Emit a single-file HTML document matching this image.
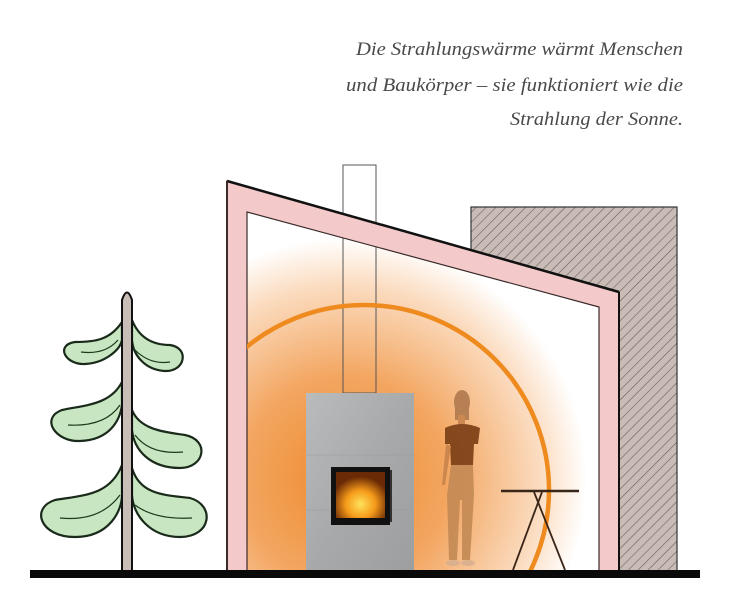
<!DOCTYPE html>
<html><head><meta charset="utf-8"><style>
html,body{margin:0;padding:0;background:#fff;width:729px;height:600px;overflow:hidden}
svg{display:block}
</style></head><body>
<svg width="729" height="600" viewBox="0 0 729 600" xmlns="http://www.w3.org/2000/svg">
<defs>
<radialGradient id="glow" cx="345" cy="480" r="260" gradientUnits="userSpaceOnUse">
<stop offset="0" stop-color="#ee8a2c"/>
<stop offset="0.4" stop-color="#f3a661"/>
<stop offset="0.75" stop-color="#fbdcc0"/>
<stop offset="0.93" stop-color="#ffffff"/>
</radialGradient>
<pattern id="hatch" width="7" height="7" patternUnits="userSpaceOnUse" patternTransform="rotate(45)">
<rect width="7" height="7" fill="#c9bcb6"/>
<line x1="0" y1="0" x2="0" y2="7" stroke="#6b5f5b" stroke-width="1.2"/>
</pattern>
<radialGradient id="fire" cx="0.5" cy="0.7" r="0.6">
<stop offset="0" stop-color="#ffe25a"/>
<stop offset="0.5" stop-color="#f59a1a"/>
<stop offset="1" stop-color="#6a2a05"/>
</radialGradient>
<linearGradient id="stone" x1="0" y1="0" x2="1" y2="1">
<stop offset="0" stop-color="#b9bbbd"/>
<stop offset="0.5" stop-color="#a7a9ab"/>
<stop offset="1" stop-color="#9c9ea0"/>
</linearGradient>
<clipPath id="inner"><rect x="247" y="150" width="352" height="420"/></clipPath>
</defs>

<g font-family="Liberation Serif, serif" font-style="italic" font-size="19" fill="#4a4a4a" text-anchor="end">
<text x="683" y="55" textLength="327" lengthAdjust="spacingAndGlyphs">Die Strahlungswärme wärmt Menschen</text>
<text x="683" y="91" textLength="337" lengthAdjust="spacingAndGlyphs">und Baukörper – sie funktioniert wie die</text>
<text x="683" y="125" textLength="173" lengthAdjust="spacingAndGlyphs">Strahlung der Sonne.</text>
</g>

<rect x="471" y="207" width="206" height="364" fill="url(#hatch)" stroke="#333" stroke-width="1.2"/>

<polygon points="247,212 600,307 600,571 247,571" fill="url(#glow)"/>

<rect x="343" y="165" width="33" height="228" fill="none" stroke="#555" stroke-width="1"/>
<rect x="344" y="166" width="31" height="40" fill="#fff"/>

<polygon points="227,181 619,292 619,571 599,571 599,307 247,212 247,571 227,571" fill="#f3c9c9" stroke="#3a2a2a" stroke-width="1.2"/>
<line x1="227" y1="181" x2="619" y2="292" stroke="#111" stroke-width="2.5"/>
<line x1="619" y1="292" x2="619" y2="571" stroke="#111" stroke-width="2"/>
<line x1="227" y1="181" x2="227" y2="571" stroke="#3a2a2a" stroke-width="2"/>

<circle cx="364" cy="490" r="185" fill="none" stroke="#ee8a1e" stroke-width="4.5" clip-path="url(#inner)"/>

<rect x="306" y="393" width="108" height="178" fill="url(#stone)"/>
<line x1="306" y1="455" x2="414" y2="455" stroke="#999" stroke-width="0.6"/>
<line x1="306" y1="510" x2="414" y2="510" stroke="#999" stroke-width="0.6"/>
<rect x="331" y="467" width="59" height="58" fill="#111"/>
<rect x="336" y="472" width="49" height="46" fill="url(#fire)"/>
<rect x="390" y="470" width="2" height="52" fill="#333"/>

<g fill="#c7844c" opacity="0.9">
<ellipse cx="462" cy="402" rx="8" ry="12" fill="#b07a4f"/>
<rect x="455" y="402" width="14" height="18" fill="#b07a4f"/>
<rect x="458" y="415" width="7" height="10"/>
<path d="M445,428 Q462,420 480,428 L478,444 L474,444 L473,465 L451,465 L450,444 L445,444 Z" fill="#7a3d14"/>
<path d="M446,444 L442,485 L445,485 L451,446 Z"/>
<path d="M451,465 L473,465 L474,495 L470,560 L462,560 L462,500 L460,500 L457,560 L449,560 L447,495 Z" fill="#c48a55"/>
<ellipse cx="453" cy="563" rx="7" ry="3" fill="#d9b090"/>
<ellipse cx="468" cy="563" rx="7" ry="3" fill="#d9b090"/>
</g>

<line x1="501" y1="491" x2="579" y2="491" stroke="#3a2618" stroke-width="2.5"/>
<line x1="534" y1="492" x2="565" y2="570" stroke="#3a2618" stroke-width="1.8"/>
<line x1="542" y1="492" x2="513" y2="570" stroke="#3a2618" stroke-width="1.8"/>

<g stroke="#1a2a1a" stroke-width="2.2" fill="#c9e6c2">
<path d="M122,322 C110,340 95,342 75,342 C55,345 65,365 85,364 C105,363 120,350 122,340 Z"/>
<path d="M132,320 C140,340 155,345 170,345 C190,348 185,372 165,371 C145,370 133,355 132,340 Z"/>
<path d="M122,382 C110,405 85,405 62,410 C40,418 55,442 80,441 C110,440 120,420 122,405 Z"/>
<path d="M132,410 C140,430 165,432 185,435 C210,440 205,468 180,468 C150,468 134,450 132,430 Z"/>
<path d="M122,465 C110,495 85,495 55,500 C30,508 40,537 75,537 C110,537 122,510 122,495 Z"/>
<path d="M132,468 C140,495 165,495 190,498 C215,505 212,537 180,537 C150,537 133,515 132,495 Z"/>
</g>
<g stroke="#1a3a1a" stroke-width="1.2" fill="none">
<path d="M81,352 Q105,355 118,340"/>
<path d="M135,350 Q150,365 170,362"/>
<path d="M68,425 Q105,427 120,405"/>
<path d="M135,435 Q150,455 183,452"/>
<path d="M60,518 Q100,522 120,495"/>
<path d="M135,505 Q155,520 192,518"/>
</g>
<path d="M122,571 L122,300 Q127,285 132,300 L132,571 Z" fill="#c9bdb8" stroke="#111" stroke-width="2"/>

<rect x="30" y="570" width="670" height="8" fill="#0a0a0a"/>
</svg>
</body></html>
